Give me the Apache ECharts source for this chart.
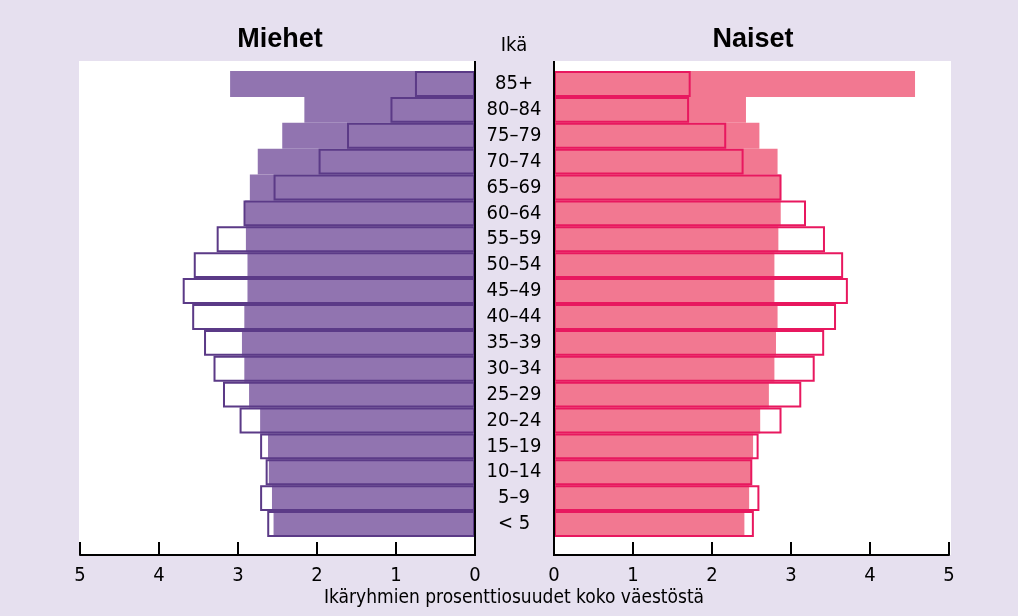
<!DOCTYPE html>
<html>
<head>
<meta charset="utf-8">
<script src="https://cdn.jsdelivr.net/npm/echarts@6/dist/echarts.min.js"></script>
<style>
  html, body { margin: 0; padding: 0; background: #e6e0ef; }
  #chart { width: 1018px; height: 616px; }
</style>
</head>
<body>
<div id="chart"></div>
<script>
// ikäryhmät ylhäältä alas
const ageGroups = ['85+', '80–84', '75–79', '70–74', '65–69', '60–64', '55–59', '50–54',
  '45–49', '40–44', '35–39', '30–34', '25–29', '20–24', '15–19', '10–14', '5–9', '< 5']

// täytetyt palkit
const menFilled = [3.10, 2.16, 2.44, 2.75, 2.85, 2.91, 2.90, 2.88, 2.88, 2.92, 2.95, 2.92, 2.86, 2.72, 2.62, 2.61, 2.57, 2.55]
const womenFilled = [4.57, 2.43, 2.60, 2.83, 2.87, 2.87, 2.84, 2.79, 2.79, 2.83, 2.81, 2.79, 2.72, 2.61, 2.52, 2.50, 2.47, 2.41]
// ääriviivapalkit
const menOutline = [0.76, 1.07, 1.62, 1.98, 2.55, 2.93, 3.27, 3.56, 3.70, 3.58, 3.43, 3.31, 3.19, 2.98, 2.72, 2.65, 2.72, 2.63]
const womenOutline = [1.73, 1.71, 2.18, 2.40, 2.88, 3.19, 3.43, 3.66, 3.72, 3.57, 3.42, 3.30, 3.13, 2.88, 2.59, 2.51, 2.60, 2.53]

const xTicks = [0, 1, 2, 3, 4, 5]

const font = '"Liberation Sans Narrow", "DejaVu Sans Condensed", sans-serif'
const menFill = '#9174b0'
const menLine = '#5b3a87'
const womenFill = '#f27891'
const womenLine = '#e8185f'

const chart = echarts.init(document.getElementById('chart'))

function valueAxis(gridIndex, inverse) {
  return {
    type: 'value',
    gridIndex,
    inverse,
    min: xTicks[0],
    max: xTicks[xTicks.length - 1],
    interval: 1,
    offset: 18,
    splitLine: { show: false },
    axisLine: { show: true, lineStyle: { color: '#000', width: 2 } },
    axisTick: { show: true, inside: true, length: 13, lineStyle: { color: '#000', width: 2 } },
    axisLabel: { color: '#000', fontFamily: font, fontSize: 20, margin: 11 }
  }
}

function catAxis(gridIndex, showLabels) {
  return {
    type: 'category',
    gridIndex,
    data: ageGroups,
    inverse: true,
    position: 'right',
    axisLine: { show: false },
    axisTick: { show: false },
    axisLabel: {
      show: showLabels,
      interval: 0,
      color: '#000',
      fontFamily: font,
      fontSize: 20,
      lineHeight: 20,
      align: 'center',
      margin: 39
    }
  }
}

chart.setOption({
  backgroundColor: '#e6e0ef',
  animation: false,
  grid: [
    { left: 80, right: 543, top: 71, height: 466 },
    { left: 554, right: 69, top: 71, height: 466 }
  ],
  xAxis: [valueAxis(0, true), valueAxis(1, false)],
  yAxis: [catAxis(0, true), catAxis(1, false)],
  graphic: [
    { type: 'rect', z: 0, shape: { x: 79, y: 61, width: 396, height: 494 }, style: { fill: '#fff' } },
    { type: 'rect', z: 0, shape: { x: 553, y: 61, width: 398, height: 494 }, style: { fill: '#fff' } },
    { type: 'line', z: 10, shape: { x1: 475, y1: 61, x2: 475, y2: 556 }, style: { stroke: '#000', lineWidth: 2 } },
    { type: 'line', z: 10, shape: { x1: 554, y1: 61, x2: 554, y2: 556 }, style: { stroke: '#000', lineWidth: 2 } },
    { type: 'text', z: 10, x: 280, y: 40, style: { text: 'Miehet', font: 'bold 27px "Liberation Sans", sans-serif', fill: '#000', align: 'center', verticalAlign: 'middle' } },
    { type: 'text', z: 10, x: 753, y: 40, style: { text: 'Naiset', font: 'bold 27px "Liberation Sans", sans-serif', fill: '#000', align: 'center', verticalAlign: 'middle' } },
    { type: 'text', z: 10, x: 514, y: 46, style: { text: 'Ikä', font: '20px ' + font, fill: '#000', align: 'center', verticalAlign: 'middle' } },
    { type: 'text', z: 10, x: 514, y: 598, style: { text: 'Ikäryhmien prosenttiosuudet koko väestöstä', font: '19px ' + font, fill: '#000', align: 'center', verticalAlign: 'middle' } }
  ],
  series: [
    {
      name: 'Miehet', type: 'bar', xAxisIndex: 0, yAxisIndex: 0,
      data: menFilled, barCategoryGap: 0, barGap: '-100%',
      itemStyle: { color: menFill }
    },
    {
      name: 'Miehet ääriviiva', type: 'bar', xAxisIndex: 0, yAxisIndex: 0,
      data: menOutline, barCategoryGap: 0, barGap: '-100%',
      itemStyle: { color: 'rgba(0,0,0,0)', borderColor: menLine, borderWidth: 2 }
    },
    {
      name: 'Naiset', type: 'bar', xAxisIndex: 1, yAxisIndex: 1,
      data: womenFilled, barCategoryGap: 0, barGap: '-100%',
      itemStyle: { color: womenFill }
    },
    {
      name: 'Naiset ääriviiva', type: 'bar', xAxisIndex: 1, yAxisIndex: 1,
      data: womenOutline, barCategoryGap: 0, barGap: '-100%',
      itemStyle: { color: 'rgba(0,0,0,0)', borderColor: womenLine, borderWidth: 2 }
    }
  ]
})
</script>
</body>
</html>
